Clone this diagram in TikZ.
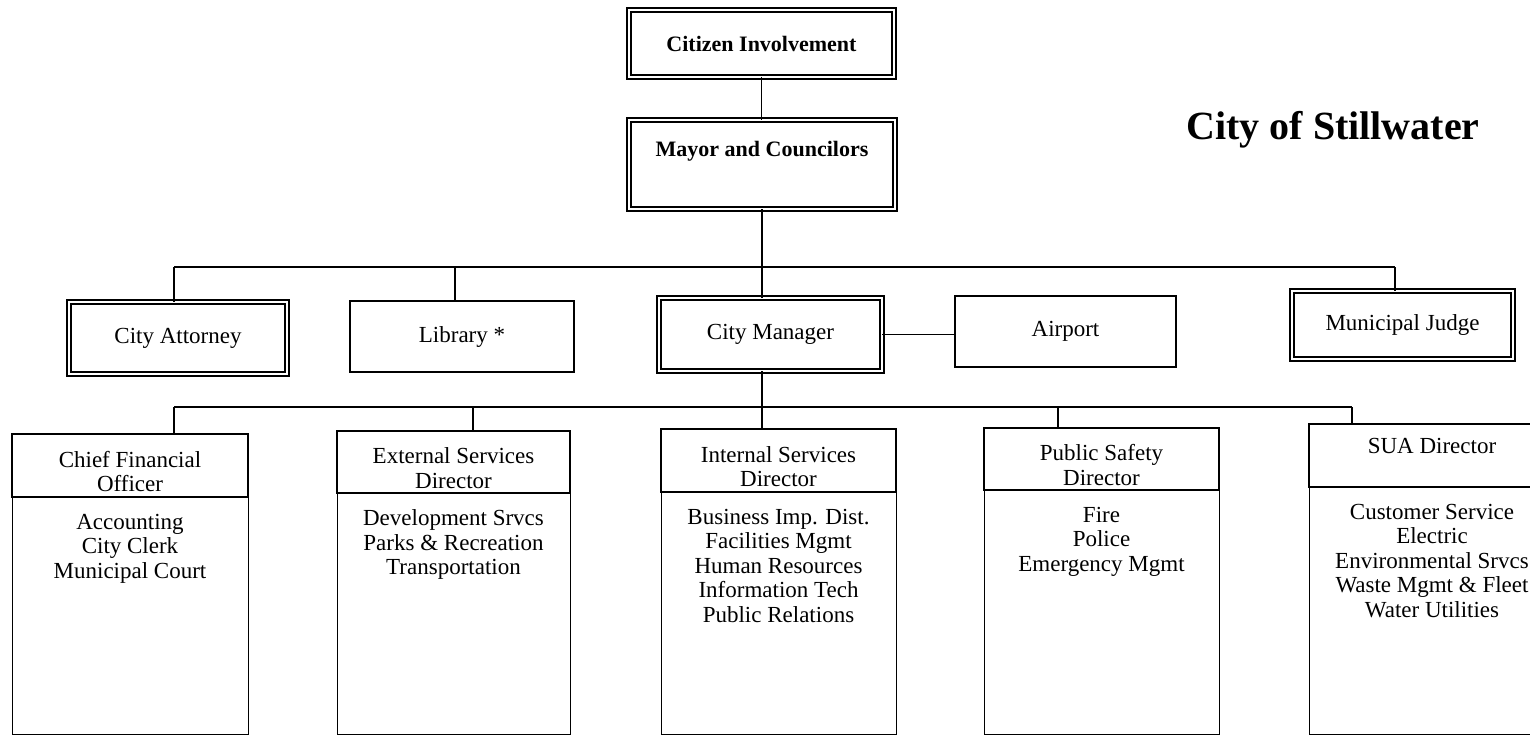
\documentclass[tikz,border=0pt]{standalone}
\usepackage{fontspec}
\setmainfont{Liberation Serif}
\begin{document}
\begin{tikzpicture}[x=0.5pt,y=-0.5pt,
  every node/.style={inner sep=0pt, outer sep=0pt},
  txt/.style={font=\fontsize{11.5}{12.25}\selectfont, align=center},
  boldtxt/.style={font=\bfseries\fontsize{11}{12}\selectfont, align=center},
  dblbox/.style={draw, double, line width=0.75pt, double distance=1.3pt, txt},
  thickbox/.style={draw, line width=1.3pt, txt},
  hdrbox/.style={draw, line width=1pt},
  bodybox/.style={draw, line width=0.5pt, anchor=north},
  conn/.style={line width=0.7pt},
]
\useasboundingbox (0,0) rectangle (1530,738);
\fill[white] (0,0) rectangle (1530,738);
\clip (0,0) rectangle (1530,738);

% Title
\node[font=\bfseries\fontsize{20}{24}\selectfont, anchor=base] (title) at (1333,140) {City of Stillwater};

% Top of the chart
\node[dblbox, boldtxt, minimum width=132.5pt, minimum height=33.5pt] (ci) at (761.5,43.5) {Citizen Involvement};
\node[dblbox, boldtxt, minimum width=133pt, minimum height=44.5pt] (mc) at (762,164.5) {Mayor and Councilors\\[4pt]\mbox{}};

% Second row
\node[dblbox, minimum width=109pt, minimum height=36pt] (ca) at (178,338) {City Attorney};
\node[thickbox, minimum width=112pt, minimum height=35.5pt] (lib) at (462,336.5) {Library *};
\node[dblbox, minimum width=111.5pt, minimum height=36.5pt] (cm) at (770.5,334.5) {City Manager};
\node[thickbox, minimum width=110.5pt, minimum height=35.5pt] (ap) at (1065.5,331.5) {Airport};
\node[dblbox, minimum width=110.5pt, minimum height=34pt] (mj) at (1402.5,325) {Municipal Judge};

% Connectors of the upper part
\coordinate (busL) at (174,267);
\coordinate (busR) at (1395,267);
\coordinate (libTap) at (455,267);
\draw[conn] (ci.south) -- (ci.south |- mc.north);
\draw[conn] (mc.south) -- (mc.south |- busL);
\draw[conn] (busL) -- (busR);
\draw[conn] (busL) -- (busL |- ca.north);
\draw[conn] (libTap) -- (libTap |- lib.north);
\draw[conn] (mc.south |- busL) -- (mc.south |- cm.north);
\draw[conn] (busR) -- (busR |- mj.north);
\draw[conn] (cm.east) -- (cm.east -| ap.west);

% Department heads
\node[hdrbox, minimum width=118pt, minimum height=31.5pt] (cfoH) at (130,465.5) {};
\node[hdrbox, minimum width=116.5pt, minimum height=31pt] (extH) at (453.5,462) {};
\node[hdrbox, minimum width=117.5pt, minimum height=31.5pt] (intH) at (778.5,460.5) {};
\node[hdrbox, minimum width=117.5pt, minimum height=31pt] (psH) at (1101.5,459) {};
\node[hdrbox, minimum width=123pt, minimum height=31.5pt] (suaH) at (1432,455.5) {};

\node[txt] (cfoT) at ([yshift=-3pt]cfoH.center) {Chief Financial\\Officer};
\node[txt] (extT) at ([yshift=-3pt]extH.center) {External Services\\Director};
\node[txt] (intT) at ([yshift=-3pt]intH.center) {Internal Services\\Director};
\node[txt] (psT) at ([yshift=-3pt]psH.center) {Public Safety\\Director};
\node[txt] (suaT) at ([yshift=5pt]suaH.center) {SUA Director};

% Divisions under each head
\node[bodybox, minimum width=118pt, minimum height=118.5pt] (cfoB) at (cfoH.south) {};
\node[bodybox, minimum width=116.5pt, minimum height=120.5pt] (extB) at (extH.south) {};
\node[bodybox, minimum width=117.5pt, minimum height=121pt] (intB) at (intH.south) {};
\node[bodybox, minimum width=117.5pt, minimum height=122pt] (psB) at (psH.south) {};
\node[bodybox, minimum width=123pt, minimum height=123.5pt] (suaB) at (suaH.south) {};

\node[txt, anchor=north] (cfoL) at ([yshift=-8.5pt]cfoB.north) {Accounting\\City Clerk\\Municipal Court};
\node[txt, anchor=north] (extL) at ([yshift=-8.5pt]extB.north) {Development Srvcs\\Parks \& Recreation\\Transportation};
\node[txt, anchor=north] (intL) at ([yshift=-8.5pt]intB.north) {Business Imp. Dist.\\Facilities Mgmt\\Human Resources\\Information Tech\\Public Relations};
\node[txt, anchor=north] (psL) at ([yshift=-8.5pt]psB.north) {Fire\\Police\\Emergency Mgmt};
\node[txt, anchor=north] (suaL) at ([yshift=-8.5pt]suaB.north) {Customer Service\\Electric\\Environmental Srvcs\\Waste Mgmt \& Fleet\\Water Utilities};

% Connectors of the lower part
\coordinate (lbusL) at (174,407);
\coordinate (lbusR) at (1352,407);
\coordinate (extTap) at (473,407);
\coordinate (psTap) at (1058,407);
\draw[conn] (mc.south |- cm.south) -- (mc.south |- lbusL);
\draw[conn] (lbusL) -- (lbusR);
\draw[conn] (lbusL) -- (lbusL |- cfoH.north);
\draw[conn] (extTap) -- (extTap |- extH.north);
\draw[conn] (mc.south |- lbusL) -- (mc.south |- intH.north);
\draw[conn] (psTap) -- (psTap |- psH.north);
\draw[conn] (lbusR) -- (lbusR |- suaH.north);
\end{tikzpicture}
\end{document}
